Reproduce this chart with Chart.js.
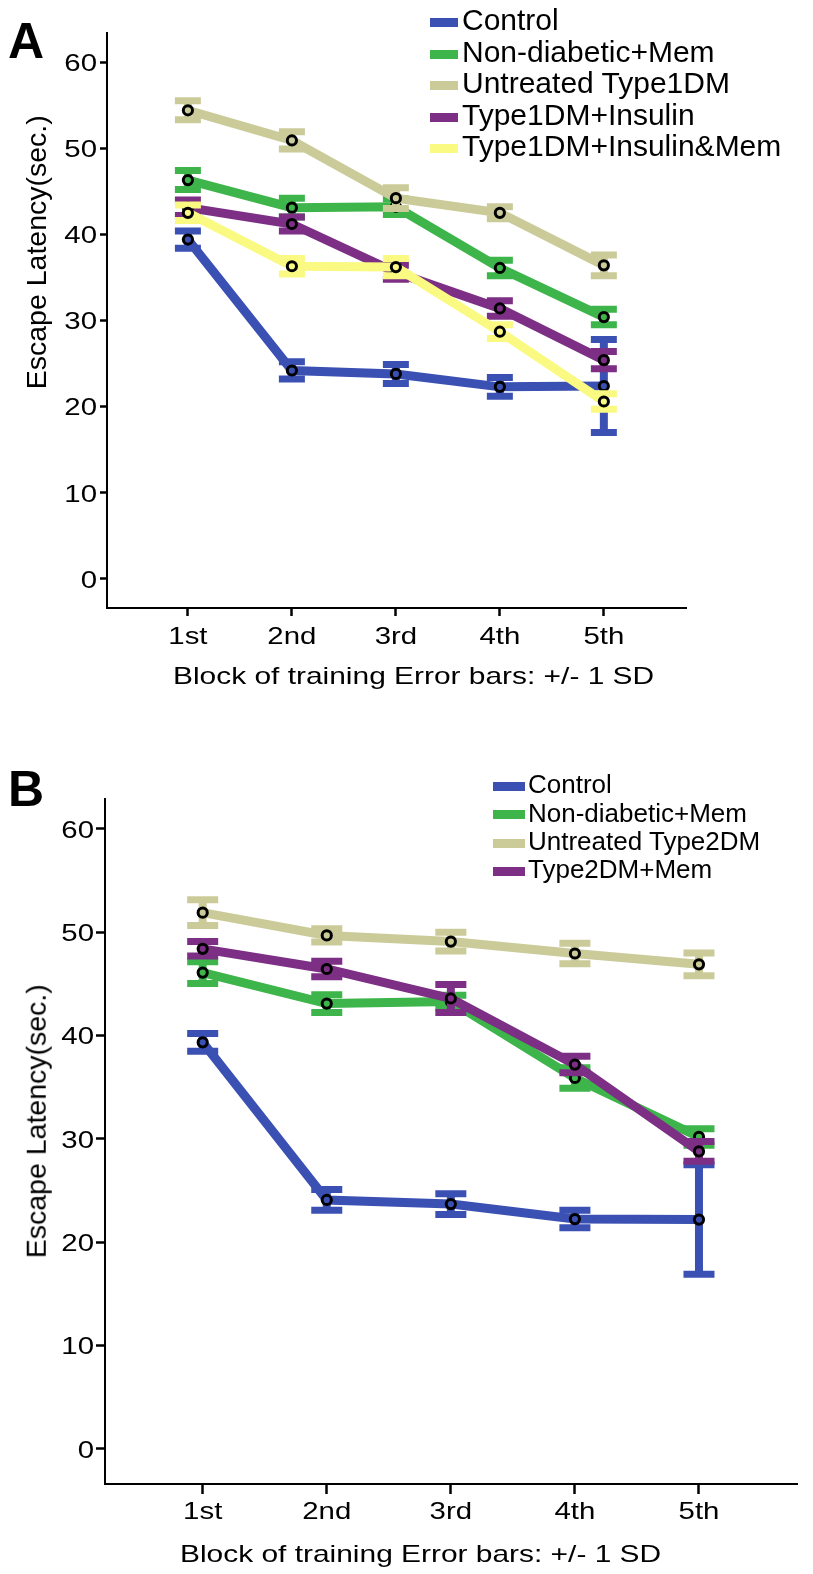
<!DOCTYPE html>
<html>
<head>
<meta charset="utf-8">
<script src="https://cdn.jsdelivr.net/npm/chart.js@4.4.1/dist/chart.umd.min.js"></script>
<style>
html,body{margin:0;padding:0;background:#fff;}
body{width:813px;height:1574px;position:relative;overflow:hidden;font-family:"Liberation Sans",Arial,sans-serif;color:#000;}
.abs{position:absolute;white-space:nowrap;}
canvas{position:absolute;left:0;top:0;}
.panel{position:absolute;left:0;width:813px;}
</style>
</head>
<body>
<div class="panel" id="panelA" style="top:0;height:700px;"><canvas id="chartA" width="813" height="700"></canvas></div>
<div class="panel" id="panelB" style="top:760px;height:814px;"><canvas id="chartB" width="813" height="814"></canvas></div>

<script>
// ---------------- DATA ----------------
const blocks = ['1st', '2nd', '3rd', '4th', '5th'];
const yTickValues = [0, 10, 20, 30, 40, 50, 60];

// Panel A (Type 1 DM)
const namesA = ['Control', 'Non-diabetic+Mem', 'Untreated Type1DM', 'Type1DM+Insulin', 'Type1DM+Insulin&Mem'];
const colorsA = ['#3b50b3', '#3db54b', '#cbcb9a', '#7c2f84', '#fafa82'];
const aControl       = [39.4, 24.2, 23.8, 22.3, 22.4];
const aControlSD     = [1.0, 1.0, 1.1, 1.1, 5.4];
const aNonDiabMem    = [46.3, 43.1, 43.2, 36.1, 30.4];
const aNonDiabMemSD  = [1.1, 1.1, 0.9, 0.9, 0.9];
const aUntreated     = [54.4, 50.9, 44.2, 42.5, 36.4];
const aUntreatedSD   = [1.1, 1.0, 1.2, 0.7, 1.2];
const aInsulin       = [43.1, 41.2, 35.6, 31.4, 25.4];
const aInsulinSD     = [0.9, 0.8, 0.8, 0.9, 1.0];
const aInsulinMem    = [42.5, 36.3, 36.2, 28.7, 20.6];
const aInsulinMemSD  = [0.9, 0.9, 1.0, 0.8, 0.9];

// Panel B (Type 2 DM)
const namesB = ['Control', 'Non-diabetic+Mem', 'Untreated Type2DM', 'Type2DM+Mem'];
const colorsB = ['#3b50b3', '#3db54b', '#cbcb9a', '#7c2f84'];
const bControl       = [39.35, 24.1, 23.7, 22.25, 22.2];
const bControlSD     = [0.85, 1.0, 1.0, 0.85, 5.3];
const bNonDiabMem    = [46.1, 43.1, 43.3, 35.9, 30.2];
const bNonDiabMemSD  = [1.05, 0.85, 0.6, 1.0, 0.8];
const bUntreated     = [51.9, 49.7, 49.1, 47.95, 46.9];
const bUntreatedSD   = [1.25, 0.65, 0.9, 1.0, 1.1];
const bT2Mem         = [48.4, 46.45, 43.6, 37.2, 28.8];
const bT2MemSD       = [0.7, 0.75, 1.35, 0.8, 0.95];

const yTitle = 'Escape Latency(sec.)';
const xTitle = 'Block of training Error bars: +/- 1 SD';

// ---------------- PLUGINS ----------------
const errorBarPlugin = {
  id: 'errorBars',
  beforeDatasetDraw(chart, args, opts) {
    const ds = chart.data.datasets[args.index];
    if (!ds.sd) return;
    const xs = chart.scales.x, ys = chart.scales.y, ctx = chart.ctx;
    ctx.save();
    ctx.strokeStyle = ds.borderColor;
    ctx.lineCap = 'butt';
    ds.data.forEach((p, i) => {
      const lo = p.y - ds.sd[i], hi = p.y + ds.sd[i];
      const px = xs.getPixelForValue(p.x);
      const xl = xs.getPixelForValue(p.x - opts.capHalf);
      const xr = xs.getPixelForValue(p.x + opts.capHalf);
      const yl = ys.getPixelForValue(lo), yh = ys.getPixelForValue(hi);
      ctx.lineWidth = opts.stemWidth;
      ctx.beginPath(); ctx.moveTo(px, yl); ctx.lineTo(px, yh); ctx.stroke();
      ctx.lineWidth = opts.capWidth;
      ctx.beginPath();
      ctx.moveTo(xl, yl); ctx.lineTo(xr, yl);
      ctx.moveTo(xl, yh); ctx.lineTo(xr, yh);
      ctx.stroke();
    });
    ctx.restore();
  }
};

const stretchedLabels = {
  id: 'stretchedLabels',
  afterDraw(chart, args, o) {
    const ctx = chart.ctx, xs = chart.scales.x, ys = chart.scales.y;
    ctx.save();
    ctx.fillStyle = '#000';
    ctx.font = o.size + 'px "Liberation Sans", Arial, sans-serif';
    ctx.textBaseline = 'alphabetic';
    ctx.textAlign = 'center';
    xs.ticks.forEach(t => {
      const px = xs.getPixelForValue(t.value);
      ctx.save();
      ctx.translate(px, o.xLabelCapCenter + 0.358 * o.size);
      ctx.scale(o.stretch, 1);
      ctx.fillText(blocks[t.value - 1], 0, 0);
      ctx.restore();
    });
    ctx.textAlign = 'right';
    ys.ticks.forEach(t => {
      const py = ys.getPixelForValue(t.value);
      ctx.save();
      ctx.translate(o.yLabelRight, py + 0.358 * o.size);
      ctx.scale(o.stretch, 1);
      ctx.fillText(String(t.value), 0, 0);
      ctx.restore();
    });
    ctx.restore();
  }
};

function makeChart(id, g, names, colors, means, sds) {
  const n = names.length;
  const datasets = names.map((nm, k) => ({
    label: nm,
    data: blocks.map((b, i) => ({x: i + 1, y: means[k][i]})),
    sd: sds[k],
    borderColor: colors[k],
    backgroundColor: colors[k],
    borderWidth: 9,
    tension: 0,
    pointRadius: 4.6,
    pointBorderWidth: 3,
    pointBorderColor: '#000',
    pointBackgroundColor: colors[k],
    order: n - k,
    clip: false
  }));
  return new Chart(document.getElementById(id), {
    type: 'line',
    data: {datasets},
    plugins: [errorBarPlugin, stretchedLabels],
    options: {
      responsive: false,
      animation: false,
      devicePixelRatio: 1,
      layout: {padding: {left: 0, top: g.padTop, right: g.padRight, bottom: 0}},
      plugins: {
        legend: {display: false},
        tooltip: {enabled: false},
        errorBars: {capHalf: 0.125, capWidth: 7, stemWidth: 8},
        stretchedLabels: {size: 24.5, stretch: 1.2, xLabelCapCenter: g.xLabelCapCenter, yLabelRight: g.yLabelRight}
      },
      scales: {
        x: {
          type: 'linear',
          min: g.xMin, max: g.xMax,
          afterBuildTicks: s => { s.ticks = blocks.map((b, i) => ({value: i + 1})); },
          afterFit: s => { s.height = g.xAxisHeight; },
          ticks: {display: false},
          grid: {display: true, drawOnChartArea: false, drawTicks: true, tickLength: g.xTickLen, tickColor: '#000', tickWidth: 2.5},
          border: {display: true, color: '#000', width: 2}
        },
        y: {
          type: 'linear',
          min: g.yMin, max: g.yMax,
          afterBuildTicks: s => { s.ticks = yTickValues.map(v => ({value: v})); },
          afterFit: s => { s.width = g.yAxisWidth; },
          ticks: {display: false},
          grid: {display: true, drawOnChartArea: false, drawTicks: true, tickLength: g.yTickLen, tickColor: '#000', tickWidth: 2.5},
          border: {display: true, color: '#000', width: 2}
        }
      }
    }
  });
}

makeChart('chartA', {
  padTop: 33, padRight: 127, xAxisHeight: 92, yAxisWidth: 107,
  xMin: 0.222, xMax: 5.79, yMin: -3.366, yMax: 63.37,
  xTickLen: 8, yTickLen: 7, xLabelCapCenter: 635, yLabelRight: 97
}, namesA, colorsA,
  [aControl, aNonDiabMem, aUntreated, aInsulin, aInsulinMem],
  [aControlSD, aNonDiabMemSD, aUntreatedSD, aInsulinSD, aInsulinMemSD]);

makeChart('chartB', {
  padTop: 39, padRight: 16, xAxisHeight: 90, yAxisWidth: 105,
  xMin: 0.2127, xMax: 5.79, yMin: -3.387, yMax: 62.9,
  xTickLen: 10, yTickLen: 9, xLabelCapCenter: 750, yLabelRight: 94
}, namesB, colorsB,
  [bControl, bNonDiabMem, bUntreated, bT2Mem],
  [bControlSD, bNonDiabMemSD, bUntreatedSD, bT2MemSD]);

// ---------------- HTML TEXT (legends, titles, panel letters) ----------------
function addText(txt, left, capCenter, size, extra) {
  const d = document.createElement('div');
  d.className = 'abs';
  d.textContent = txt;
  d.style.left = left + 'px';
  d.style.top = (capCenter - 0.4885 * size) + 'px';
  d.style.fontSize = size + 'px';
  d.style.lineHeight = size + 'px';
  if (extra) Object.assign(d.style, extra);
  document.body.appendChild(d);
  return d;
}
function addLegend(names, colors, L) {
  names.forEach((nm, k) => {
    const cy = L.firstCap + k * L.step;
    const sw = document.createElement('div');
    sw.className = 'abs';
    Object.assign(sw.style, {left: L.swLeft + 'px', width: L.swWidth + 'px', height: '9px',
      top: (cy + 2.5 - 4.5) + 'px', background: colors[k]});
    document.body.appendChild(sw);
    addText(nm, L.textLeft, cy, L.size);
  });
}
addLegend(namesA, colorsA, {firstCap: 20, step: 31.5, swLeft: 430, swWidth: 28, textLeft: 462, size: 30});
addLegend(namesB, colorsB, {firstCap: 784, step: 28.33, swLeft: 493, swWidth: 32, textLeft: 528, size: 26});

// panel letters
addText('A', 8, 40, 50, {fontWeight: 'bold'});
addText('B', 8, 788, 50, {fontWeight: 'bold'});

// x axis titles (stretched horizontally like the reference)
addText(xTitle, 172.6, 675.7, 24, {transform: 'scaleX(1.246)', transformOrigin: 'left center'});
addText(xTitle, 180, 1554, 24, {transform: 'scaleX(1.246)', transformOrigin: 'left center'});

// y axis titles (rotated)
function addYTitle(cx, cy) {
  const w = 320, s = 28.5;
  const d = document.createElement('div');
  d.className = 'abs';
  d.textContent = yTitle;
  Object.assign(d.style, {left: (cx - w / 2) + 'px', top: (cy - s / 2) + 'px', width: w + 'px',
    textAlign: 'center', fontSize: s + 'px', lineHeight: s + 'px', transform: 'rotate(-90deg)',
    transformOrigin: 'center center'});
  document.body.appendChild(d);
}
addYTitle(36, 252);
addYTitle(36, 1121);
</script>
</body>
</html>
